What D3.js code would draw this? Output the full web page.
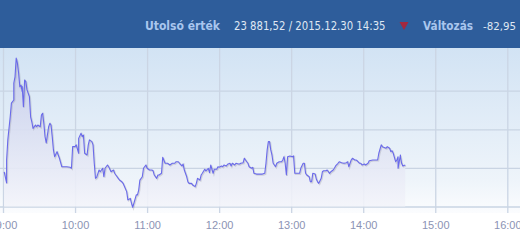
<!DOCTYPE html>
<html>
<head>
<meta charset="utf-8">
<script src="https://cdn.jsdelivr.net/npm/d3@7"></script>
<style>
    body { margin: 0; background: #ffffff; }
    svg { display: block; }
</style>
</head>
<body>
<div id="canvas"></div>
<script>
"use strict"

/* data: BUX, 2015.12.30 */
let day = "2015-12-30";
let times = [
    "09:01", "09:03", "09:03", "09:04", "09:06", "09:07", "09:09", "09:09", "09:10", "09:11",
    "09:12", "09:13", "09:14", "09:15", "09:16", "09:16", "09:17", "09:18", "09:19", "09:20",
    "09:22", "09:23", "09:24", "09:25", "09:27", "09:28", "09:29", "09:31", "09:32", "09:33",
    "09:34", "09:35", "09:36", "09:38", "09:39", "09:40", "09:41", "09:42", "09:43", "09:45",
    "09:46", "09:47", "09:49", "09:50", "09:53", "09:56", "09:57", "09:58", "10:00", "10:01",
    "10:03", "10:03", "10:05", "10:06", "10:07", "10:08", "10:10", "10:11", "10:12", "10:14",
    "10:15", "10:16", "10:17", "10:18", "10:20", "10:21", "10:23", "10:24", "10:25", "10:27",
    "10:28", "10:30", "10:32", "10:33", "10:34", "10:36", "10:37", "10:39", "10:40", "10:41",
    "10:43", "10:44", "10:46", "10:47", "10:48", "10:49", "10:51", "10:52", "10:53", "10:54",
    "10:56", "10:57", "10:59", "11:00", "11:02", "11:04", "11:05", "11:06", "11:08", "11:09",
    "11:10", "11:12", "11:13", "11:15", "11:17", "11:19", "11:21", "11:23", "11:24", "11:26",
    "11:27", "11:29", "11:30", "11:31", "11:33", "11:34", "11:35", "11:37", "11:38", "11:40",
    "11:41", "11:42", "11:44", "11:45", "11:46", "11:48", "11:49", "11:51", "11:52", "11:53",
    "11:55", "11:56", "11:58", "11:59", "12:00", "12:02", "12:03", "12:04", "12:06", "12:07",
    "12:09", "12:10", "12:11", "12:13", "12:14", "12:16", "12:17", "12:18", "12:20", "12:21",
    "12:23", "12:24", "12:25", "12:27", "12:28", "12:29", "12:31", "12:34", "12:36", "12:38",
    "12:39", "12:40", "12:41", "12:42", "12:43", "12:44", "12:45", "12:47", "12:48", "12:50",
    "12:52", "12:53", "12:54", "12:55", "12:56", "12:57", "12:59", "13:01", "13:02", "13:03",
    "13:04", "13:06", "13:07", "13:08", "13:10", "13:11", "13:12", "13:13", "13:15", "13:16",
    "13:17", "13:18", "13:20", "13:21", "13:22", "13:23", "13:25", "13:26", "13:27", "13:29",
    "13:30", "13:32", "13:33", "13:35", "13:36", "13:37", "13:39", "13:40", "13:42", "13:44",
    "13:46", "13:47", "13:48", "13:50", "13:51", "13:53", "13:54", "13:55", "13:57", "13:58",
    "13:59", "14:01", "14:02", "14:04", "14:05", "14:08", "14:11", "14:12", "14:13", "14:15",
    "14:16", "14:17", "14:19", "14:20", "14:22", "14:23", "14:24", "14:25", "14:27", "14:28",
    "14:29", "14:29", "14:31", "14:31", "14:32", "14:33", "14:35"
];
let values = [
    23878.0, 23872.2, 23884.1, 23894.5, 23906.5, 23913.6, 23915.2, 23924.0, 23927.2, 23936.9,
    23934.3, 23929.2, 23922.1, 23922.9, 23919.5, 23922.1, 23911.7, 23925.5, 23924.7, 23920.4,
    23916.9, 23906.5, 23903.9, 23900.5, 23902.2, 23901.3, 23902.2, 23901.3, 23907.4, 23908.3,
    23903.1, 23896.2, 23892.9, 23901.3, 23903.1, 23902.2, 23896.2, 23889.3, 23885.8, 23888.4,
    23886.7, 23885.0, 23880.6, 23880.6, 23880.6, 23880.3, 23879.8, 23891.0, 23891.0, 23891.9,
    23887.6, 23895.3, 23897.9, 23896.2, 23897.0, 23887.6, 23886.7, 23891.9, 23894.5, 23893.6,
    23891.9, 23882.4, 23874.6, 23875.1, 23878.9, 23878.0, 23879.8, 23875.4, 23879.8, 23881.5,
    23880.6, 23878.0, 23878.9, 23877.2, 23876.3, 23874.6, 23873.7, 23872.8, 23872.0, 23870.6,
    23867.7, 23863.4, 23864.2, 23861.7, 23859.6, 23861.7, 23866.0, 23866.0, 23868.5, 23873.7,
    23875.4, 23879.8, 23881.5, 23879.8, 23878.9, 23878.9, 23878.5, 23876.3, 23874.6, 23876.3,
    23876.3, 23877.2, 23885.5, 23882.4, 23882.4, 23881.5, 23882.4, 23882.4, 23883.2, 23883.2,
    23882.4, 23881.0, 23882.0, 23878.9, 23875.4, 23872.8, 23872.0, 23872.0, 23871.1, 23870.3,
    23872.0, 23874.6, 23873.7, 23876.3, 23877.2, 23879.3, 23878.5, 23879.8, 23877.5, 23881.5,
    23877.2, 23879.3, 23879.3, 23880.6, 23880.3, 23881.0, 23880.6, 23881.5, 23881.0, 23881.9,
    23882.4, 23881.0, 23882.4, 23881.5, 23882.4, 23882.0, 23882.0, 23882.4, 23882.7, 23885.0,
    23883.2, 23882.4, 23880.6, 23879.8, 23880.3, 23877.2, 23876.8, 23876.8, 23876.8, 23877.2,
    23882.4, 23889.3, 23893.6, 23893.6, 23889.3, 23886.7, 23882.4, 23880.6, 23882.4, 23883.2,
    23883.2, 23884.1, 23885.8, 23882.4, 23876.3, 23885.8, 23886.2, 23885.8, 23886.2, 23877.2,
    23877.2, 23877.2, 23877.2, 23879.8, 23882.4, 23882.4, 23877.2, 23876.3, 23875.4, 23872.8,
    23872.8, 23877.2, 23876.8, 23874.1, 23872.8, 23872.0, 23874.6, 23878.0, 23878.5, 23878.5,
    23878.9, 23877.2, 23878.0, 23878.9, 23879.8, 23881.0, 23882.4, 23883.2, 23882.7, 23882.4,
    23882.7, 23883.2, 23880.6, 23884.1, 23885.0, 23884.1, 23884.1, 23883.7, 23882.4, 23882.4,
    23881.5, 23882.0, 23881.5, 23882.4, 23883.7, 23884.1, 23884.1, 23884.1, 23887.6, 23891.9,
    23891.0, 23890.7, 23890.2, 23891.0, 23890.2, 23888.4, 23888.9, 23887.6, 23883.2, 23884.1,
    23885.8, 23879.8, 23886.7, 23885.8, 23882.4, 23881.0, 23881.52
];
let hourTicks = ["09:00", "10:00", "11:00", "12:00", "13:00", "14:00", "15:00", "16:00"];
let valueTicks = [23860, 23880, 23900, 23920];
let headerLabels = ["Utolsó érték", "Változás"];
let headerValues = ["23 881,52 / 2015.12.30 14:35", "-82,95"];

let parseTime = d3.timeParse("%Y-%m-%d %H:%M");
let points = times.map(function (t, i) {
    return { date: parseTime(day + " " + t), value: values[i] };
});
let tickDates = hourTicks.map(function (t) { return parseTime(day + " " + t); });

/* set up the drawing canvas */
let width = 520, height = 245;
let headerH = 48;
let plotBottom = 206.5;

let drawing = d3.select("#canvas")
    .append("svg")
    .attr("width", width)
    .attr("height", height);

let x = d3.scaleTime()
    .domain([tickDates[0], tickDates[tickDates.length - 1]])
    .range([3, 507.3]);

let y = d3.scaleLinear()
    .domain([23860, 23940])
    .range([plotBottom, 52.1]);

let defs = drawing.append("defs");

/*light blue background fading to white*/
let bgGrad = defs.append("linearGradient")
    .attr("id", "bgGrad")
    .attr("x1", 0).attr("y1", 0).attr("x2", 0).attr("y2", 1);
bgGrad.append("stop").attr("offset", "0%").attr("stop-color", "#d2e3f4");
bgGrad.append("stop").attr("offset", "80%").attr("stop-color", "#eef4fa");
bgGrad.append("stop").attr("offset", "100%").attr("stop-color", "#fbfcfe");

/*lavender fill under the line*/
let areaGrad = defs.append("linearGradient")
    .attr("id", "areaGrad")
    .attr("gradientUnits", "userSpaceOnUse")
    .attr("x1", 0).attr("y1", y(23937)).attr("x2", 0).attr("y2", plotBottom);
areaGrad.append("stop").attr("offset", "0%").attr("stop-color", "#c3cbea");
areaGrad.append("stop").attr("offset", "100%").attr("stop-color", "#f3f4fa");

drawing.append("rect")
    .attr("x", 0)
    .attr("y", headerH)
    .attr("width", width)
    .attr("height", 213 - headerH)
    .attr("fill", "url(#bgGrad)");

/*horizontal grid*/
let gridY = drawing.append("g")
    .call(d3.axisRight(y).tickValues(valueTicks).tickSize(width).tickFormat(""));
gridY.select(".domain").remove();
gridY.selectAll("line")
    .attr("stroke", "#c9d4e3")
    .attr("stroke-width", 1.3);

/*vertical grid*/
let gridX = drawing.append("g")
    .attr("transform", "translate(0,213)")
    .call(d3.axisBottom(x).tickValues(tickDates).tickSize(-(213 - headerH)).tickFormat(""));
gridX.select(".domain").remove();
gridX.selectAll("line")
    .attr("stroke", "#cbd5e4")
    .attr("stroke-width", 1.3);

/*area and line*/
let area = d3.area()
    .x(function (d) { return x(d.date); })
    .y0(plotBottom)
    .y1(function (d) { return y(d.value); });

let line = d3.line()
    .x(function (d) { return x(d.date); })
    .y(function (d) { return y(d.value); });

drawing.append("path")
    .datum(points)
    .attr("d", area)
    .attr("fill", "url(#areaGrad)")
    .attr("opacity", 0.9);

drawing.append("path")
    .datum(points)
    .attr("d", line)
    .attr("transform", "translate(0.8,0.8)")
    .attr("fill", "none")
    .attr("stroke", "#7a7a88")
    .attr("stroke-opacity", 0.25)
    .attr("stroke-width", 1.6);

drawing.append("path")
    .datum(points)
    .attr("d", line)
    .attr("fill", "none")
    .attr("stroke", "#6a6aea")
    .attr("stroke-width", 1.1)
    .attr("stroke-linejoin", "round");

/*time labels*/
let axisX = drawing.append("g")
    .attr("transform", "translate(0,218)")
    .call(d3.axisBottom(x).tickValues(tickDates).tickSize(0).tickPadding(0)
        .tickFormat(d3.timeFormat("%H:%M")));
axisX.select(".domain").remove();
axisX.selectAll("text")
    .attr("dy", "11")
    .attr("font-family", "Liberation Sans, Arial, sans-serif")
    .attr("font-size", 11)
    .attr("fill", "#8b93b4");

/*header band*/
drawing.append("rect")
    .attr("x", 0)
    .attr("y", 0)
    .attr("width", width)
    .attr("height", headerH)
    .attr("fill", "#2e5d9b");

let header = drawing.append("g")
    .attr("font-family", "DejaVu Sans, Verdana, sans-serif")
    .attr("font-size", 12);

header.append("text")
    .attr("x", 145).attr("y", 30)
    .attr("font-weight", "bold")
    .attr("fill", "#a9c6ee")
    .attr("textLength", 75).attr("lengthAdjust", "spacingAndGlyphs")
    .text(headerLabels[0]);

header.append("text")
    .attr("x", 234).attr("y", 30)
    .attr("fill", "#dfe7f3")
    .attr("textLength", 151.5).attr("lengthAdjust", "spacingAndGlyphs")
    .text(headerValues[0]);

/*red down triangle*/
header.append("path")
    .attr("d", "M399.5,22 L408.5,22 L404,30 Z")
    .attr("fill", "#a3283f");

header.append("text")
    .attr("x", 423).attr("y", 30)
    .attr("font-weight", "bold")
    .attr("fill", "#a9c6ee")
    .attr("textLength", 50).attr("lengthAdjust", "spacingAndGlyphs")
    .text(headerLabels[1]);

header.append("text")
    .attr("x", 483).attr("y", 30)
    .attr("font-size", 11)
    .attr("fill", "#dfe7f3")
    .attr("textLength", 33).attr("lengthAdjust", "spacingAndGlyphs")
    .text(headerValues[1]);
</script>
</body>
</html>
